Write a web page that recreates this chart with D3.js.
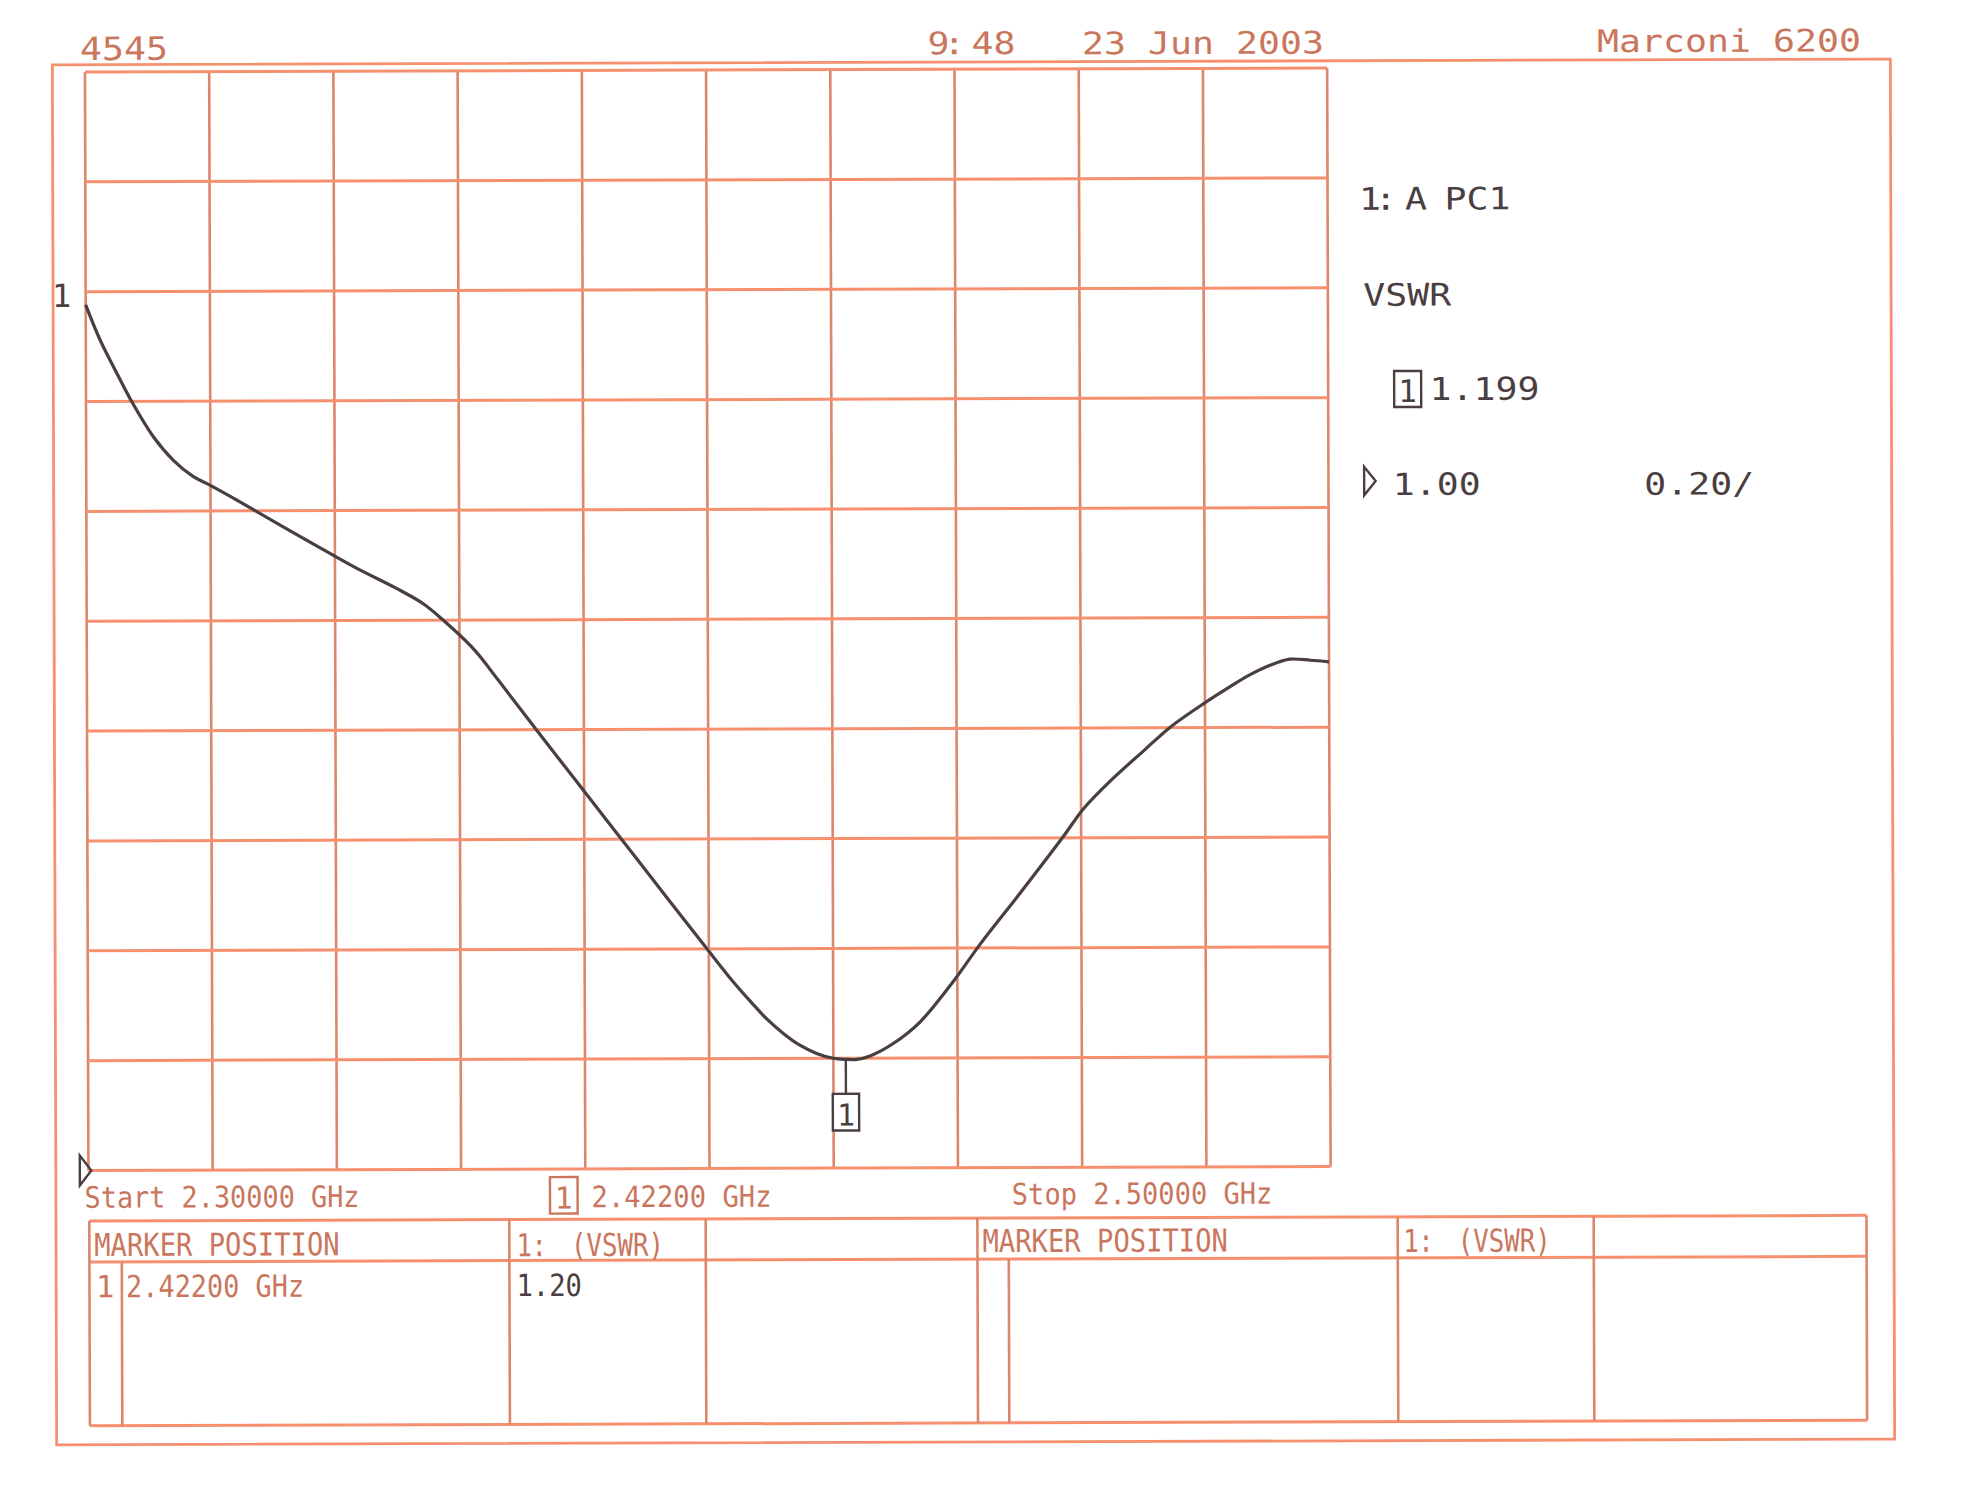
<!DOCTYPE html>
<html>
<head>
<meta charset="utf-8">
<script src="https://cdn.jsdelivr.net/npm/d3@7"></script>
<style>
  html, body { margin: 0; padding: 0; background: #fff; }
  svg { display: block; }
  text { font-family: "DejaVu Sans Mono", monospace; }
</style>
</head>
<body>
<svg width="1973" height="1506"></svg>
<script>
// trace 1 : VSWR against frequency
const freqGHz = [2.3000, 2.3023, 2.3050, 2.3074, 2.3108, 2.3140, 2.3172, 2.3199, 2.3248, 2.3312,
  2.3397, 2.3440, 2.3499, 2.3542, 2.3572, 2.3623, 2.3662, 2.3724, 2.3793, 2.3860,
  2.3927, 2.3997, 2.4039, 2.4066, 2.4093, 2.4120, 2.4146, 2.4173, 2.4200, 2.4220,
  2.4238, 2.4259, 2.4297, 2.4340, 2.4394, 2.4437, 2.4501, 2.4571, 2.4604, 2.4647,
  2.4701, 2.4744, 2.4797, 2.4840, 2.4873, 2.4905, 2.4937, 2.4970, 2.5000];
const vswr = [2.576, 2.512, 2.451, 2.399, 2.336, 2.293, 2.263, 2.247, 2.216, 2.174,
  2.119, 2.092, 2.058, 2.030, 2.002, 1.947, 1.891, 1.799, 1.698, 1.600,
  1.502, 1.400, 1.340, 1.305, 1.272, 1.245, 1.224, 1.209, 1.200, 1.198,
  1.198, 1.204, 1.227, 1.266, 1.340, 1.407, 1.499, 1.602, 1.653, 1.703,
  1.758, 1.801, 1.843, 1.874, 1.896, 1.913, 1.924, 1.922, 1.919];

const startGHz = 2.3;
const stopGHz = 2.5;
const refValue = 1.0;
const perDiv = 0.2;
const xDivs = 10;
const yDivs = 10;

const markerGHz = 2.422;
const markerVswr = 1.199;

const headerTexts = ['4545', '9: 48', '23 Jun 2003', 'Marconi 6200'];
const panelTexts = ['1: A PC1', 'VSWR', '1.199', '1.00', '0.20/'];
const sweepTexts = ['Start 2.30000 GHz', '2.42200 GHz', 'Stop 2.50000 GHz'];
const tableHeads = ['MARKER POSITION', '1: (VSWR)'];
const tableRow = ['1', '2.42200 GHz', '1.20'];

const gridH = '#f6906f';
const gridV = '#dc866b';
const orange = '#c9765d';
const ink = '#4a3e40';

const svg = d3.select('svg');
// the scanned sheet sits a little askew
const root = svg.append('g').attr('transform', 'rotate(-0.18 960 750)');

const plot = {left: 87.1, right: 1329.3, top: 69.25, bottom: 1167.75};

const x = d3.scaleLinear().domain([startGHz, stopGHz]).range([plot.left, plot.right]);
const y = d3.scaleLinear().domain([refValue, refValue + yDivs * perDiv]).range([plot.bottom, plot.top]);

const xTicks = d3.range(xDivs + 1).map(i => startGHz + i * (stopGHz - startGHz) / xDivs);
const yTicks = d3.range(yDivs + 1).map(i => refValue + i * perDiv);

// outer frame
root.append('rect')
  .attr('x', 54.5).attr('y', 62)
  .attr('width', 1892.5 - 54.5).attr('height', 1442 - 62)
  .attr('fill', 'none').attr('stroke', gridH).attr('stroke-width', 2.8);

// grid
root.append('g').selectAll('line')
  .data(xTicks)
  .join('line')
  .attr('x1', d => x(d)).attr('x2', d => x(d))
  .attr('y1', plot.top).attr('y2', plot.bottom)
  .attr('stroke', gridV).attr('stroke-width', 2.6);

root.append('g').selectAll('line')
  .data(yTicks)
  .join('line')
  .attr('x1', plot.left).attr('x2', plot.right)
  .attr('y1', d => y(d)).attr('y2', d => y(d))
  .attr('stroke', gridH).attr('stroke-width', 3);

// trace
const line = d3.line()
  .x(d => x(d[0]))
  .y(d => y(d[1]))
  .curve(d3.curveCatmullRom.alpha(0.5));

root.append('path')
  .datum(d3.zip(freqGHz, vswr))
  .attr('d', line)
  .attr('fill', 'none')
  .attr('stroke', ink)
  .attr('stroke-width', 3.2)
  .attr('stroke-linejoin', 'round');

function txt(str, px, py, size, len, fill, anchor) {
  const t = root.append('text')
    .attr('x', px).attr('y', py)
    .attr('font-size', size)
    .attr('fill', fill)
    .text(str);
  if (len) t.attr('textLength', len).attr('lengthAdjust', 'spacingAndGlyphs');
  if (anchor) t.attr('text-anchor', anchor);
  return t;
}

// text laid out cell by cell, glyphs scaled like the plotter font
function cellText(str, xs, py, size, sx, fill) {
  root.append('text')
    .attr('transform', `translate(0,${py}) scale(${sx},1)`)
    .attr('x', xs.map(v => v / sx).join(' '))
    .attr('y', 0)
    .attr('font-size', size)
    .attr('fill', fill)
    .text(str);
}

function boxOne(cx, top, w, h, color, size) {
  root.append('rect')
    .attr('x', cx - w / 2).attr('y', top)
    .attr('width', w).attr('height', h)
    .attr('fill', '#fff').attr('stroke', color).attr('stroke-width', 2.4);
  txt('1', cx, top + h - 5, size, null, color, 'middle');
}

// trace label and reference arrow
txt('1', 63.1, y(vswr[0]) + 2, 32, null, ink, 'middle');
const yr = y(refValue);
root.append('path')
  .attr('d', `M78.5,${yr - 15}L90,${yr}L78.5,${yr + 15}Z`)
  .attr('fill', 'none').attr('stroke', ink).attr('stroke-width', 2.4);

// marker 1
const mx = x(markerGHz);
const my = y(markerVswr);
root.append('line')
  .attr('x1', mx).attr('x2', mx)
  .attr('y1', my).attr('y2', my + 35)
  .attr('stroke', ink).attr('stroke-width', 2.4);
boxOne(mx, my + 35, 26.3, 36.7, ink, 30);

// header
txt(headerTexts[0], 82.1, 57.2, 32, 88, orange);
cellText(headerTexts[1], [929.7, 945.5, 960, 973.7, 995.7], 54.2, 31, 1.18, orange);
txt(headerTexts[2], 1084.2, 54.7, 31, 242, orange);
txt(headerTexts[3], 1599.2, 54.1, 31, 264, orange);

// right panel
cellText(panelTexts[0], [1360.7, 1376.5, 1391.7, 1406.7, 1428.7, 1446.2, 1468.2, 1490.2], 211, 31, 1.18, ink);
txt(panelTexts[1], 1364.7, 307, 31, 88, ink);
boxOne(1408.8, 372.4, 27, 36, ink, 31);
txt(panelTexts[2], 1430.6, 401.5, 31.5, 110, ink);
root.append('path')
  .attr('d', 'M1365,468L1376.5,482.3L1365,496.6Z')
  .attr('fill', 'none').attr('stroke', ink).attr('stroke-width', 2.4);
txt(panelTexts[3], 1393.5, 496.3, 30.5, 88, ink);
txt(panelTexts[4], 1645, 496.8, 30.5, 110, ink);

// sweep annotations
txt(sweepTexts[0], 83.1, 1205, 29.5, 275, orange);
boxOne(562.4, 1175.8, 27.6, 36.5, orange, 30);
txt(sweepTexts[1], 590.1, 1206.1, 29.5, 180, orange);
txt(sweepTexts[2], 1010.4, 1204.6, 29.5, 260.5, orange);

// marker table
const tbl = {left: 87.8, right: 1865, top: 1218.2, head: 1259.2, bottom: 1423};
const fullCols = [507.8, 704.2, 975.9, 1396.2, 1592.2];
const shortCols = [120.2, 1007.2];

root.append('g').selectAll('line')
  .data([tbl.top, tbl.head, tbl.bottom])
  .join('line')
  .attr('x1', tbl.left).attr('x2', tbl.right)
  .attr('y1', d => d).attr('y2', d => d)
  .attr('stroke', gridH).attr('stroke-width', 3);

root.append('g').selectAll('line')
  .data([tbl.left, tbl.right].concat(fullCols))
  .join('line')
  .attr('x1', d => d).attr('x2', d => d)
  .attr('y1', tbl.top).attr('y2', tbl.bottom)
  .attr('stroke', gridV).attr('stroke-width', 2.6);

root.append('g').selectAll('line')
  .data(shortCols)
  .join('line')
  .attr('x1', d => d).attr('x2', d => d)
  .attr('y1', tbl.head).attr('y2', tbl.bottom)
  .attr('stroke', gridV).attr('stroke-width', 2.6);

const vswrHeadCells = [0, 15, 33.5, 54.5, 70, 85.5, 101, 116.5, 132];
txt(tableHeads[0], 92.6, 1253.3, 31.5, 245.5, orange);
cellText(tableHeads[1], vswrHeadCells.map(d => d + 514.9), 1254.8, 31.5, 0.82, orange);
txt(tableHeads[0], 980.9, 1252.2, 31.5, 245.5, orange);
cellText(tableHeads[1], vswrHeadCells.map(d => d + 1401.7), 1253.3, 31.5, 0.82, orange);

txt(tableRow[0], 103.6, 1294.6, 30.5, null, orange, 'middle');
txt(tableRow[1], 124.4, 1294.6, 30.5, 178, orange);
txt(tableRow[2], 514.7, 1294.7, 30.5, 65.6, ink);
</script>
</body>
</html>
